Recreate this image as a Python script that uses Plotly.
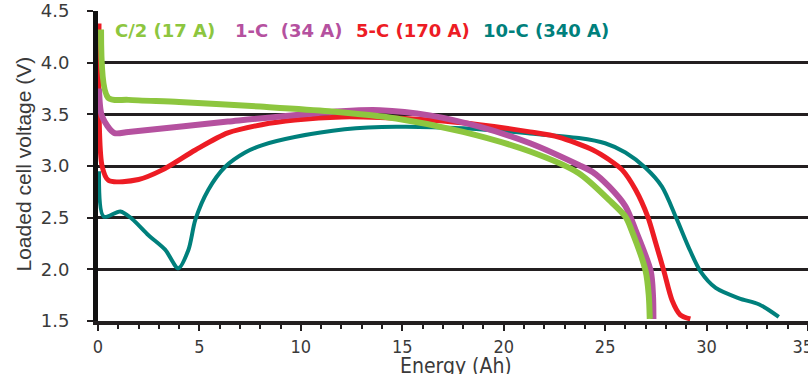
import plotly.graph_objects as go

# ---- data ----
green_x = [0.15, 0.5, 1.5, 4.0, 8.0, 11.4, 14.7, 18.0, 21.3, 23.7, 25.2, 26.0, 26.3, 27.0, 27.15, 27.2]
green_y = [4.32, 3.66, 3.64, 3.62, 3.575, 3.53, 3.46, 3.33, 3.14, 2.93, 2.67, 2.51, 2.38, 1.98, 1.75, 1.52]

purple_x = [0.05, 0.2, 0.8, 1.5, 6.4, 12.0, 13.9, 16.35, 18.8, 21.3, 23.7, 24.4, 25.2, 26.0, 26.5, 27.25, 27.36, 27.38]
purple_y = [3.75, 3.48, 3.32, 3.33, 3.43, 3.53, 3.54, 3.49, 3.38, 3.22, 3.01, 2.94, 2.80, 2.61, 2.38, 1.98, 1.74, 1.52]

red_x = [0.05, 0.2, 0.52, 2.0, 3.15, 4.8, 6.4, 8.07, 9.7, 12.0, 13.9, 16.35, 18.8, 21.3, 22.7, 24.4, 25.2, 25.85, 26.5, 27.1, 27.5, 27.9, 28.3, 28.7, 29.2]
red_y = [4.38, 3.0, 2.86, 2.87, 2.96, 3.155, 3.32, 3.40, 3.445, 3.475, 3.47, 3.445, 3.40, 3.33, 3.28, 3.155, 3.06, 2.96, 2.77, 2.51, 2.25, 1.98, 1.70, 1.56, 1.52]

teal_x = [0.05, 0.28, 1.1, 1.67, 2.49, 3.31, 3.96, 4.46, 4.8, 5.44, 6.26, 7.25, 8.07, 9.7, 12.16, 14.7, 18.0, 21.3, 23.7, 25.0, 26.0, 27.0, 27.8, 28.5, 29.1, 29.7, 30.45, 31.6, 32.6, 33.56]
teal_y = [2.95, 2.51, 2.56, 2.49, 2.33, 2.19, 2.01, 2.19, 2.48, 2.77, 2.99, 3.13, 3.20, 3.28, 3.355, 3.38, 3.365, 3.315, 3.27, 3.22, 3.13, 2.98, 2.80, 2.50, 2.22, 1.98, 1.82, 1.72, 1.66, 1.54]

legend_labels = ["C/2 (17 A)", "1-C  (34 A)", "5-C (170 A)", "10-C (340 A)"]
legend_x = [0.75, 6.65, 12.6, 18.9]

x_ticks = [0, 5, 10, 15, 20, 25, 30, 35]
x_tick_text = ["0", "5", "10", "15", "20", "25", "30", "35\u00a0\u00a0"]
y_ticks = [1.5, 2.0, 2.5, 3.0, 3.5, 4.0, 4.5]

x_title = "Energy (Ah)"
y_title = "Loaded cell voltage (V)"

GREEN = "#8dc63f"
PURPLE = "#b5519f"
RED = "#ed1c24"
TEAL = "#00807c"
INK = "#231f20"
TEXT = "#3a3a3a"

fig = go.Figure()
series = [
    (teal_x, teal_y, TEAL, 4),
    (red_x, red_y, RED, 5),
    (purple_x, purple_y, PURPLE, 6),
    (green_x, green_y, GREEN, 6),
]
for xs, ys, col, w in series:
    fig.add_trace(go.Scatter(x=xs, y=ys, mode="lines",
                             line=dict(color=col, width=w, shape="spline", smoothing=0.8),
                             hoverinfo="skip"))

for lab, lx, col in zip(legend_labels, legend_x, [GREEN, PURPLE, RED, TEAL]):
    fig.add_annotation(x=lx, y=4.315, xref="x", yref="y", text="<b>" + lab + "</b>",
                       showarrow=False, xanchor="left", yanchor="middle",
                       font=dict(family="DejaVu Sans, Liberation Sans", size=18, color=col))

# axis titles as annotations (placed in paper coordinates)
PW, PH = 710.0, 310.0
fig.add_annotation(text=x_title, xref="paper", yref="paper",
                   x=(456 - 98) / PW, y=-(352 - 321) / PH, xanchor="center", yanchor="top",
                   showarrow=False,
                   font=dict(family="DejaVu Sans Condensed, Liberation Sans", size=21, color=TEXT))
fig.add_annotation(text=y_title, xref="paper", yref="paper", textangle=-90,
                   x=(9 - 98) / PW, y=(321 - 164) / PH, xanchor="left", yanchor="middle",
                   showarrow=False,
                   font=dict(family="Liberation Sans, DejaVu Sans", size=21, color=TEXT))

fig.update_layout(
    width=808, height=374,
    margin=dict(l=98, r=0, t=11, b=53),
    plot_bgcolor="white", paper_bgcolor="white",
    showlegend=False,
    xaxis=dict(
        range=[0, 35], tickvals=x_ticks, ticktext=x_tick_text,
        automargin=False, ticklabeloverflow="allow",
        showgrid=False, zeroline=False,
        showline=True, linewidth=4, linecolor=INK,
        ticks="outside", ticklen=6, tickwidth=2, tickcolor=INK,
        minor=dict(dtick=1, ticks="outside", ticklen=4, tickwidth=2, tickcolor=INK),
        tickfont=dict(family="DejaVu Sans Condensed, Liberation Sans", size=18, color=TEXT),
    ),
    yaxis=dict(
        range=[1.5, 4.5], tickvals=y_ticks, ticktext=["%.1f" % v for v in y_ticks],
        automargin=False,
        showgrid=True, gridcolor=INK, gridwidth=2.5, zeroline=False,
        showline=True, linewidth=5, linecolor="#111111",
        ticks="outside", ticklen=6, tickwidth=2, tickcolor=INK,
        ticklabelstandoff=14,
        tickfont=dict(family="DejaVu Sans, Liberation Sans", size=18, color=TEXT),
    ),
)

fig.write_html("out.html", config={"displayModeBar": False},
               post_script="document.body.style.margin='0';document.body.style.overflow='hidden';")
